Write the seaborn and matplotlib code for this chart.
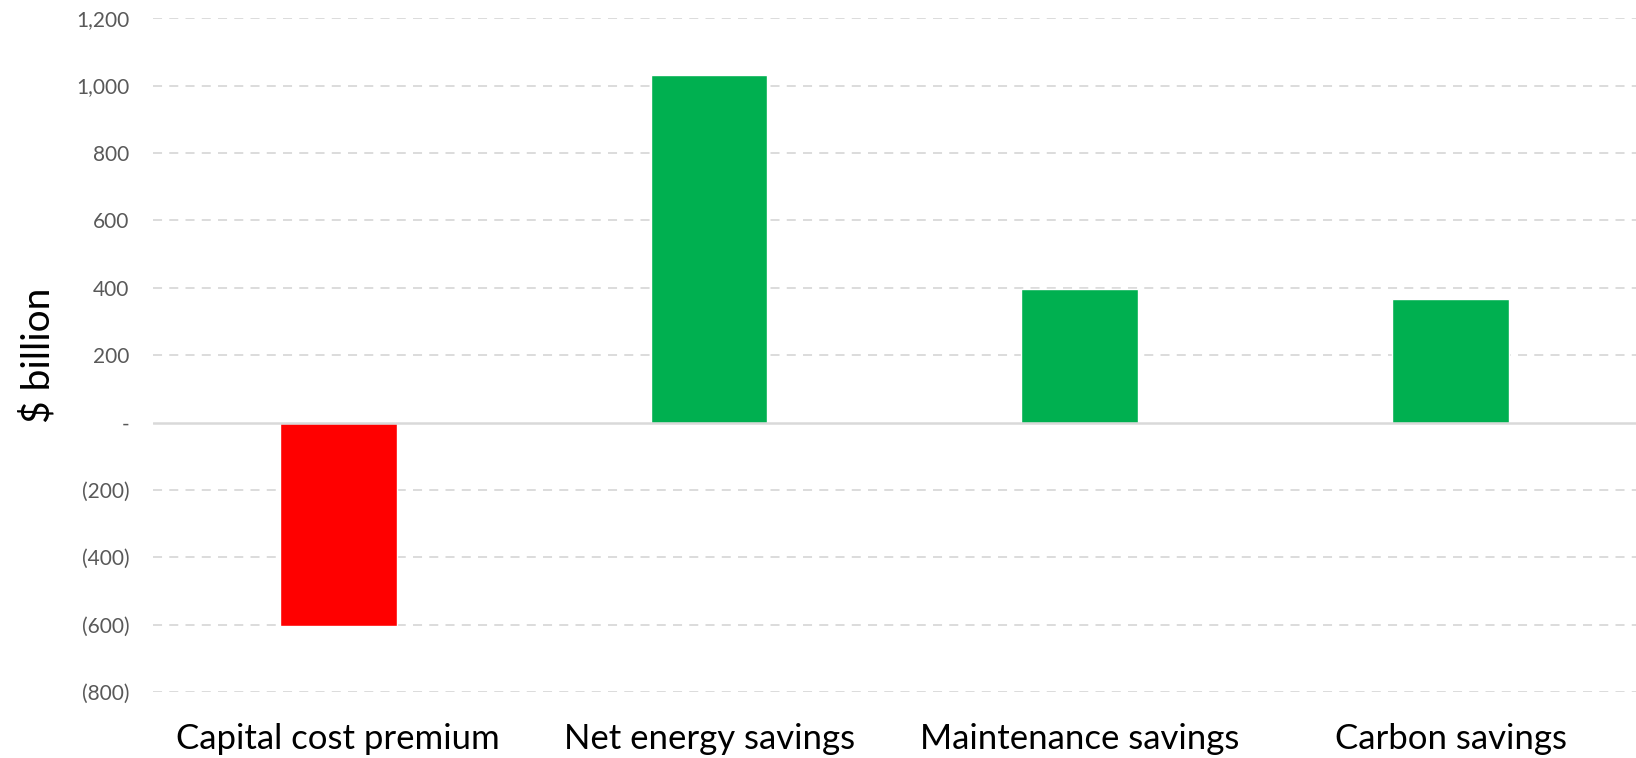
import matplotlib
matplotlib.use("Agg")
import matplotlib.pyplot as plt
import matplotlib.ticker as mticker
import seaborn as sns
import pandas as pd

categories = ["Capital cost premium", "Net energy savings", "Maintenance savings", "Carbon savings"]
values = [-605, 1030, 396, 367]
bar_colors = ["#FF0000", "#00B050", "#00B050", "#00B050"]
y_ticks = [-800, -600, -400, -200, 0, 200, 400, 600, 800, 1000, 1200]

df = pd.DataFrame({"category": categories, "value": values})

sns.set_theme(style="white")
plt.rcParams["font.family"] = ["Lato", "DejaVu Sans"]

fig = plt.figure(figsize=(16.36, 7.58), dpi=100)
ax = fig.add_axes([0.0935, 0.087, 0.9065, 0.889])

sns.barplot(data=df, x="category", y="value", hue="category",
            palette=dict(zip(categories, bar_colors)), width=0.315,
            legend=False, saturation=1, ax=ax, zorder=3)

ax.set_ylim(-800, 1200)
ax.set_yticks(y_ticks)


def accounting(v, pos):
    if v == 0:
        return "-"
    if v < 0:
        return f"({abs(v):,.0f})"
    return f"{v:,.0f}"


ax.yaxis.set_major_formatter(mticker.FuncFormatter(accounting))

for t in y_ticks:
    if t == 0:
        continue
    ax.axhline(t, color="#D9D9D9", lw=1.3, ls=(0, (5, 4)), zorder=1)
ax.axhline(0, color="#D9D9D9", lw=1.8, zorder=4)

for s in ax.spines.values():
    s.set_visible(False)

ax.tick_params(axis="y", length=0, labelsize=15, labelcolor="#595959", pad=17)
ax.tick_params(axis="x", length=0, labelsize=25, labelcolor="black", pad=22)
ax.set_xlabel("")
ax.set_ylabel("$ billion", fontsize=28, color="black", labelpad=14)

fig.savefig("out.png", dpi=100, facecolor="white")
